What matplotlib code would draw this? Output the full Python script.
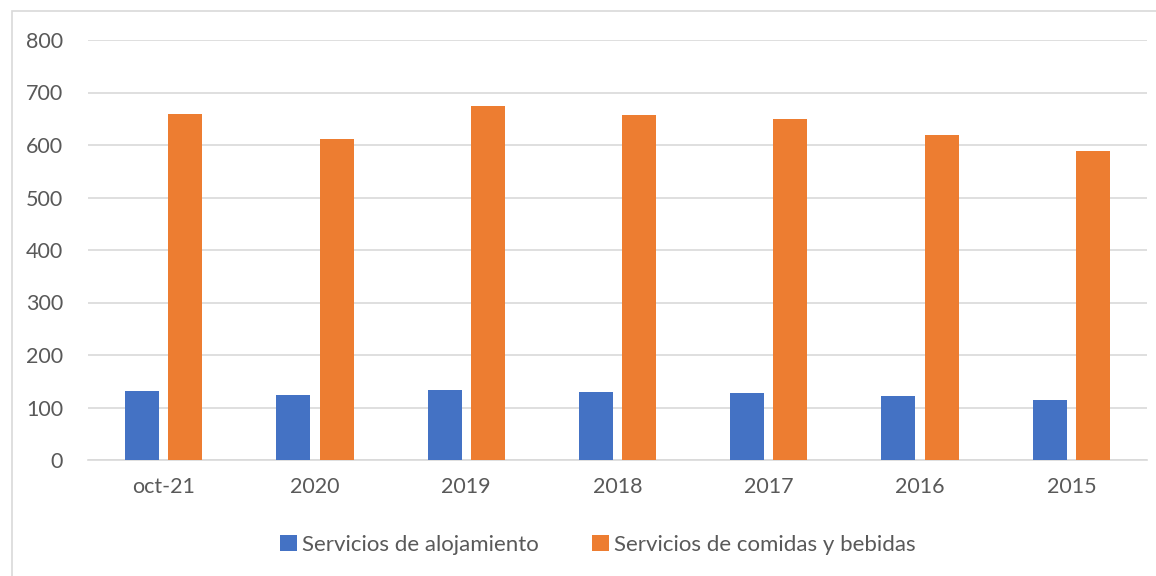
import numpy as np
import matplotlib.pyplot as plt
from matplotlib.patches import Rectangle

# categories and values
categorias = ['oct-21', '2020', '2019', '2018', '2017', '2016', '2015']
alojamiento = [131, 124, 134, 130, 127, 122, 114]
comidas = [660, 611, 674, 658, 650, 620, 588]

plt.rcParams['font.family'] = ['Lato', 'DejaVu Sans']

fig = plt.figure(figsize=(11.56, 5.76), dpi=100)
W, H = 1156, 576
ax = fig.add_axes([88 / W, 1 - 460 / H, (1147 - 88) / W, (460 - 40) / H])

x = np.arange(len(categorias))
ancho = 0.225
ax.bar(x - 0.143, alojamiento, ancho, color='#4472c4', label='Servicios de alojamiento', zorder=3)
ax.bar(x + 0.143, comidas, ancho, color='#ed7d31', label='Servicios de comidas y bebidas', zorder=3)

ax.set_xlim(-0.5, len(categorias) - 0.5)
ax.set_ylim(0, 800)
ax.set_yticks(range(0, 801, 100))
ax.set_xticks(x)
ax.set_xticklabels(categorias)
ax.grid(axis='y', color='#d9d9d9', linewidth=1.2, zorder=0)
for s in ['top', 'right', 'left']:
    ax.spines[s].set_visible(False)
ax.spines['bottom'].set_color('#d9d9d9')
ax.spines['bottom'].set_linewidth(1.2)
ax.tick_params(axis='both', length=0, labelsize=15.5, colors='#595959')
ax.tick_params(axis='y', pad=18)
ax.tick_params(axis='x', pad=12)

leg = fig.legend(loc='center', bbox_to_anchor=(598 / W, 1 - 545 / H), ncol=2, frameon=False,
                 fontsize=16, handlelength=0.75, handleheight=0.75, handletextpad=0.25,
                 columnspacing=2.4)
for t in leg.get_texts():
    t.set_color('#595959')

# chart border (cropped on right and bottom)
fig.patches.append(Rectangle((12 / W, -0.1), 1.2, 1 - 11 / H + 0.1, transform=fig.transFigure,
                             fill=False, edgecolor='#d9d9d9', linewidth=1.2))

fig.savefig('out.png', dpi=100)
